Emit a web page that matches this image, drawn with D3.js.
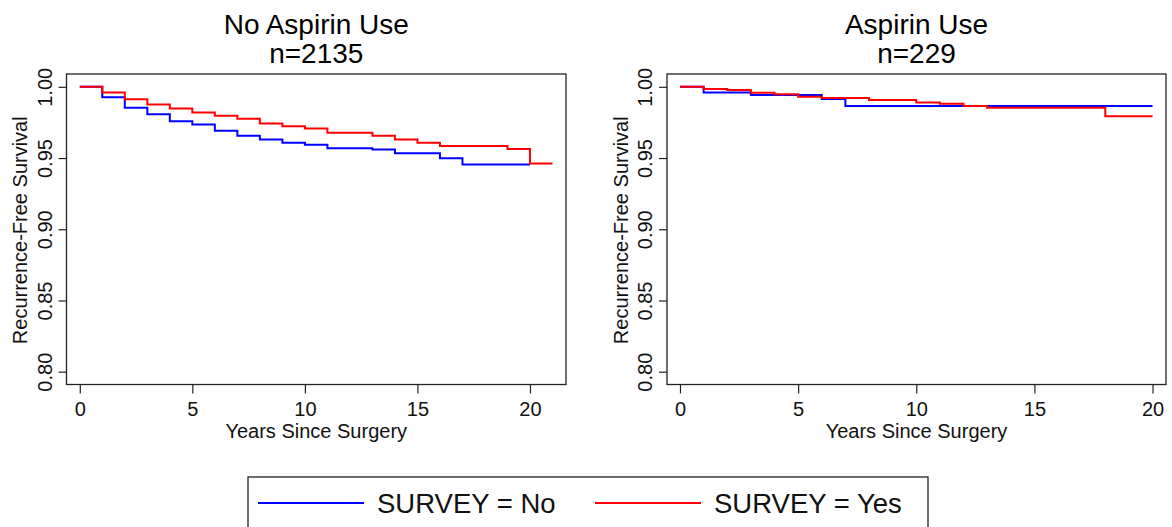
<!DOCTYPE html>
<html>
<head>
<meta charset="utf-8">
<script src="https://cdn.jsdelivr.net/npm/d3@7"></script>
<style>
  body { margin: 0; background: #fff; }
  svg { display: block; font-family: "Liberation Sans", Arial, sans-serif; }
</style>
</head>
<body>
<svg id="chart" width="1172" height="527"></svg>
<script>
// Kaplan-Meier steps (time in years, survival)
const panelTitles = ["No Aspirin Use", "Aspirin Use"];
const panelCounts = ["n=2135", "n=229"];
const seriesNames = ["SURVEY = No", "SURVEY = Yes"];
const seriesColors = ["#0000ff", "#ff0000"];

const yTicks = [0.80, 0.85, 0.90, 0.95, 1.00];
const xTicks = [0, 5, 10, 15, 20];

// No Aspirin Use
const noAspNoTime = [0, 1, 2, 3, 4, 5, 6, 7, 8, 9, 10, 11, 13, 14, 16, 17, 20];
const noAspNoSurv = [1, 0.9926, 0.9853, 0.9808, 0.9759, 0.9736, 0.9691, 0.9656, 0.9631, 0.9607, 0.9593, 0.9568, 0.956, 0.9533, 0.9498, 0.9455, 0.9455];
const noAspYesTime = [0, 1, 2, 3, 4, 5, 6, 7, 8, 9, 10, 11, 13, 14, 15, 16, 19, 20, 21];
const noAspYesSurv = [1, 0.996, 0.9912, 0.9876, 0.9848, 0.982, 0.9797, 0.9775, 0.9743, 0.9724, 0.9708, 0.9677, 0.9656, 0.9631, 0.9607, 0.9584, 0.9563, 0.9462, 0.9462];

// Aspirin Use
const aspNoTime = [0, 1, 3, 6, 7, 20];
const aspNoSurv = [1, 0.996, 0.9942, 0.9914, 0.9865, 0.9865];
const aspYesTime = [0, 1, 2, 3, 4, 5, 6, 8, 10, 11, 12, 13, 18, 20];
const aspYesSurv = [1, 0.9984, 0.9977, 0.9958, 0.9947, 0.993, 0.9921, 0.9907, 0.989, 0.9881, 0.9865, 0.9853, 0.9794, 0.9794];

const panels = [
  {
    title: panelTitles[0], count: panelCounts[0],
    xDomain: [-0.59, 21.6], xRange: [66.5, 566],
    series: [
      { t: noAspNoTime, s: noAspNoSurv, color: seriesColors[0] },
      { t: noAspYesTime, s: noAspYesSurv, color: seriesColors[1] }
    ]
  },
  {
    title: panelTitles[1], count: panelCounts[1],
    xDomain: [-0.55, 20.57], xRange: [667, 1166],
    series: [
      { t: aspNoTime, s: aspNoSurv, color: seriesColors[0] },
      { t: aspYesTime, s: aspYesSurv, color: seriesColors[1] }
    ]
  }
];

const svg = d3.select("#chart");

const y = d3.scaleLinear().domain([0.791, 1.009]).range([384.5, 74]);

panels.forEach((p) => {
  const x = d3.scaleLinear().domain(p.xDomain).range(p.xRange);
  const g = svg.append("g");
  const left = p.xRange[0], right = p.xRange[1];
  const top = y.range()[1], bottom = y.range()[0];
  const mid = (left + right) / 2;

  // titles
  g.append("text").attr("x", mid).attr("y", 34)
    .attr("text-anchor", "middle").attr("font-size", 28).text(p.title);
  g.append("text").attr("x", mid).attr("y", 63)
    .attr("text-anchor", "middle").attr("font-size", 28).text(p.count);

  // curves
  const line = d3.line()
    .x((d) => x(d[0]))
    .y((d) => y(d[1]))
    .curve(d3.curveStepAfter);

  p.series.forEach((s) => {
    const pts = s.t.map((t, i) => [t, s.s[i]]);
    g.append("path")
      .attr("d", line(pts))
      .attr("fill", "none")
      .attr("stroke", s.color)
      .attr("stroke-width", 2);
  });

  // box
  g.append("rect")
    .attr("x", left).attr("y", top)
    .attr("width", right - left).attr("height", bottom - top)
    .attr("fill", "none").attr("stroke", "#222").attr("stroke-width", 1.3);

  // y axis
  const yAxis = d3.axisLeft(y).tickValues(yTicks).tickSize(8)
    .tickFormat(d3.format(".2f"));
  const ya = g.append("g").attr("transform", `translate(${left},0)`).call(yAxis);
  ya.select(".domain").remove();
  ya.selectAll(".tick line").attr("stroke", "#222").attr("stroke-width", 1.2);
  ya.selectAll(".tick text")
    .attr("x", null).attr("dy", null)
    .attr("font-size", 20).attr("fill", "#111")
    .attr("font-family", null)
    .attr("text-anchor", "middle")
    .attr("transform", "translate(-15,0) rotate(-90)");

  // x axis
  const xAxis = d3.axisBottom(x).tickValues(xTicks).tickSize(9).tickSizeOuter(0);
  const xa = g.append("g").attr("transform", `translate(0,${bottom})`).call(xAxis);
  xa.select(".domain").remove();
  xa.selectAll(".tick line").attr("stroke", "#222").attr("stroke-width", 1.2);
  xa.selectAll(".tick text")
    .attr("y", 31.5).attr("dy", null)
    .attr("font-size", 20).attr("fill", "#111")
    .attr("font-family", null);

  // axis titles
  g.append("text").attr("x", mid).attr("y", 438)
    .attr("text-anchor", "middle").attr("font-size", 20).attr("fill", "#111")
    .text("Years Since Surgery");
  g.append("text")
    .attr("transform", `translate(${left - 39.5},${(top + bottom) / 2 + 1}) rotate(-90)`)
    .attr("text-anchor", "middle").attr("font-size", 20).attr("fill", "#111")
    .text("Recurrence-Free Survival");
});

// legend
const legend = svg.append("g");
legend.append("rect")
  .attr("x", 248).attr("y", 477).attr("width", 680).attr("height", 60)
  .attr("fill", "none").attr("stroke", "#222").attr("stroke-width", 1.3);

const legendX = [258, 595];
seriesNames.forEach((name, i) => {
  legend.append("line")
    .attr("x1", legendX[i]).attr("x2", legendX[i] + 106)
    .attr("y1", 503).attr("y2", 503)
    .attr("stroke", seriesColors[i]).attr("stroke-width", 2);
  legend.append("text")
    .attr("x", legendX[i] + 119).attr("y", 512.5)
    .attr("font-size", 27.5).attr("fill", "#111")
    .text(name);
});
</script>
</body>
</html>
